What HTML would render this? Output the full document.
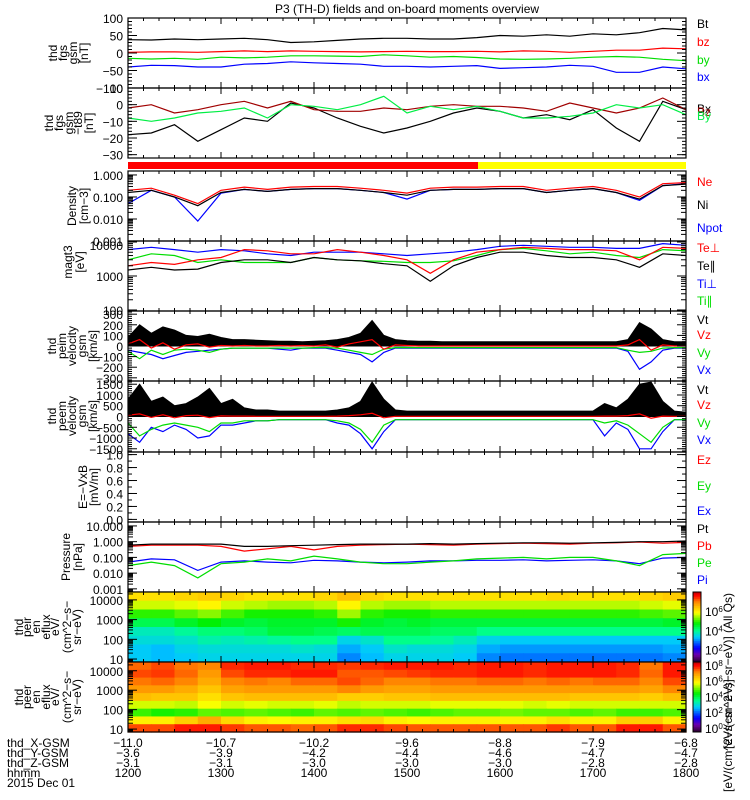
<!DOCTYPE html>
<html><head><meta charset="utf-8"><title>P3 (TH-D) overview</title>
<style>
html,body{margin:0;padding:0;background:#fff;}
svg{display:block;font-family:"Liberation Sans",sans-serif;}
text{font-size:12px;}
</style></head>
<body>
<svg id="chart" width="750" height="800" viewBox="0 0 750 800" xmlns="http://www.w3.org/2000/svg">
<rect x="0" y="0" width="750" height="800" fill="#fff"/>
<text x="407" y="13" text-anchor="middle" font-size="13">P3 (TH-D) fields and on-board moments overview</text>
</svg>
<script>
// ---------- data arrays (12:00-18:00) ----------
const p1Bt=[38,37,40,38,40,42,38,30,32,36,40,42,42,40,40,44,50,48,52,48,55,52,58,70,66];
const p1Bz=[2,3,3,2,4,6,4,6,5,4,3,4,5,4,4,5,3,6,5,2,5,8,8,14,12];
const p1By=[-15,-17,-15,-18,-12,-14,-12,-8,-8,-9,-10,-5,-8,-12,-10,-13,-17,-18,-17,-15,-12,-10,-12,-18,-22];
const p1Bx=[-40,-35,-36,-40,-40,-32,-30,-25,-28,-30,-32,-38,-38,-40,-38,-36,-44,-42,-40,-35,-38,-55,-55,-40,-45];
const p2Bx=[-18,-17,-12,-22,-15,-8,-10,1,-2,-8,-13,-17,-14,-10,-5,-2,-4,-8,-6,-9,-3,-14,-22,2,-3];
const p2Bz=[-2,0,-5,-3,0,2,-2,2,-3,-4,-4,-2,-3,-1,0,-1,-1,-2,-4,1,-2,-5,-2,4,-3];
const p2By=[-8,-10,-8,-5,-4,-2,-8,0,-1,-3,0,5,-5,-1,-3,-1,-4,-8,-8,-7,-5,0,-2,0,-6];
const p3Ne=[0.2,0.25,0.12,0.05,0.2,0.28,0.22,0.28,0.3,0.3,0.25,0.2,0.15,0.25,0.28,0.28,0.3,0.3,0.2,0.25,0.3,0.2,0.1,0.4,0.45];
const p3Ni=[0.16,0.2,0.1,0.04,0.16,0.22,0.18,0.22,0.24,0.24,0.2,0.16,0.12,0.2,0.22,0.22,0.24,0.24,0.16,0.2,0.24,0.16,0.08,0.33,0.38];
const p3Npot=[0.05,0.2,0.1,0.008,0.15,0.22,0.18,0.22,0.24,0.24,0.2,0.16,0.08,0.2,0.22,0.22,0.24,0.24,0.16,0.2,0.24,0.16,0.07,0.33,0.4];
const p4TePerp=[2000,2500,2200,3000,3500,6000,5500,4500,4500,6000,5000,4000,3000,1200,3000,5000,6000,7000,6500,6000,6000,5500,3000,7000,6500];
const p4TePar=[1500,1800,1500,1600,2500,3000,3000,2500,3500,3000,2800,2300,2000,700,2000,3500,5000,5000,4000,3500,3500,3000,1800,4500,4000];
const p4TiPerp=[6000,7000,6000,5000,6000,5500,4500,4000,5000,5000,5000,4500,4000,4500,5000,6000,7500,8000,7500,7000,7000,6500,6500,9000,8000];
const p4TiPar=[3000,4500,4000,2500,3000,2500,2500,2500,3500,3000,2800,2700,2500,2500,2800,4000,6000,6500,5500,4500,5000,4000,3500,6000,5500];
const p5Vt=[80,200,120,180,150,100,90,110,80,60,60,55,50,45,45,40,45,50,60,80,120,240,100,60,50,45,45,40,40,40,40,40,40,40,40,40,40,40,40,40,40,40,40,60,220,160,60,40,40];
const p5Vz=[20,60,-20,30,-30,10,20,-10,5,0,5,0,0,5,0,5,0,10,-10,20,40,60,-30,10,5,0,0,0,0,0,0,0,0,0,0,0,0,0,0,0,0,0,0,10,60,-40,10,0,0];
const p5Vy=[-50,-120,-40,-80,-40,-30,-40,-60,-30,-20,-20,-20,-20,-20,-20,-20,-15,-15,-20,-40,-60,-80,-30,-15,-15,-15,-15,-15,-15,-15,-15,-15,-15,-15,-15,-15,-15,-15,-15,-15,-15,-15,-15,-40,-60,-50,-20,-15,-15];
const p5Vx=[-40,-60,-80,-120,-90,-60,-50,-40,-30,-20,-20,-20,-20,-30,-40,-20,-20,-20,-40,-60,-80,-150,-60,-20,-20,-20,-20,-20,-20,-20,-20,-20,-20,-20,-20,-20,-20,-20,-20,-20,-20,-20,-20,-50,-220,-150,-40,-20,-20];
const p6Vt=[800,1500,700,900,500,600,900,1300,600,800,400,300,300,250,250,250,250,250,300,400,700,1600,800,300,250,250,250,250,250,250,250,250,250,250,250,250,250,250,250,250,250,600,400,800,1500,1600,700,250,200];
const p6Vz=[60,120,-40,80,-60,40,60,-50,30,20,20,10,10,10,10,10,10,10,20,40,80,150,-60,10,10,10,10,10,10,10,10,10,10,10,10,10,10,10,10,10,10,20,20,40,120,-80,20,10,10];
const p6Vy=[-300,-900,-600,-400,-300,-400,-500,-700,-300,-300,-200,-200,-200,-150,-150,-150,-150,-150,-200,-300,-600,-1200,-400,-150,-150,-150,-150,-150,-150,-150,-150,-150,-150,-150,-150,-150,-150,-150,-150,-150,-150,-300,-200,-400,-800,-1200,-500,-150,-150];
const p6Vx=[-800,-1200,-500,-700,-400,-600,-1000,-900,-400,-400,-300,-200,-200,-150,-150,-150,-150,-150,-300,-400,-800,-1500,-700,-150,-150,-150,-150,-150,-150,-150,-150,-150,-150,-150,-150,-150,-150,-150,-150,-150,-150,-900,-300,-600,-1500,-1500,-700,-150,-150];
const p8Pt=[0.6,0.7,0.7,0.7,0.7,0.5,0.5,0.55,0.6,0.65,0.7,0.7,0.7,0.75,0.7,0.75,0.8,0.85,0.85,0.8,0.85,0.9,1.0,1.0,1.1];
const p8Pb=[0.5,0.6,0.6,0.6,0.5,0.25,0.35,0.5,0.3,0.5,0.6,0.65,0.7,0.65,0.6,0.7,0.75,0.8,0.75,0.7,0.8,0.85,0.95,0.8,0.9];
const p8Pe=[0.03,0.05,0.03,0.005,0.04,0.05,0.08,0.06,0.12,0.08,0.05,0.04,0.04,0.05,0.06,0.08,0.09,0.1,0.08,0.1,0.1,0.06,0.03,0.15,0.18];
const p8Pi=[0.05,0.08,0.07,0.015,0.05,0.06,0.05,0.045,0.065,0.06,0.05,0.045,0.05,0.06,0.06,0.065,0.065,0.07,0.06,0.065,0.07,0.06,0.04,0.09,0.1];
const peirRows=[
[6.2,6.2,6.3,6.4,6.3,6.2,6.2,6.2,6.3,6.5,6.3,6.2,6.2,6.2,6.2,6.2,6.2,6.2,6.3,6.2,6.2,6.2,6.3,6.4],
[5.7,5.7,5.8,6.0,5.7,5.6,5.5,5.5,5.6,6.0,5.6,5.5,5.5,5.6,5.6,5.6,5.6,5.6,5.6,5.6,5.6,5.6,5.7,5.8],
[5.0,5.0,5.2,5.4,5.1,4.9,4.9,4.9,5.0,5.5,5.0,4.9,4.9,5.0,5.0,5.0,5.0,5.0,5.0,5.0,5.0,5.0,5.1,5.2],
[4.4,4.4,4.6,4.8,4.6,4.5,4.6,4.6,4.6,4.9,4.6,4.5,4.6,4.5,4.5,4.5,4.5,4.5,4.5,4.5,4.5,4.5,4.5,4.6],
[3.8,3.8,4.0,4.2,4.2,4.3,4.5,4.5,4.4,4.3,4.4,4.4,4.4,4.3,4.3,4.1,4.1,4.1,4.1,4.1,4.1,4.1,4.1,4.1],
[3.6,3.6,3.7,3.9,3.8,3.9,4.0,4.1,4.1,3.5,3.7,4.1,4.1,4.0,3.8,3.5,3.4,3.4,3.4,3.4,3.4,3.4,3.4,3.4],
[3.4,3.3,3.5,3.6,3.6,3.6,3.6,3.7,3.6,3.2,3.4,3.7,3.6,3.6,3.5,3.2,3.1,3.1,3.1,3.1,3.1,3.1,3.1,3.2],
[3.4,3.3,3.4,3.5,3.5,3.5,3.5,3.5,3.5,3.0,3.3,3.5,3.5,3.5,3.4,3.0,2.9,2.9,2.9,2.9,2.9,2.9,2.9,3.0]];
const peerRows=[
[7.4,7.6,7.3,7.2,7.8,7.9,7.9,7.8,7.8,7.7,7.8,7.9,7.9,7.9,7.8,7.9,7.9,7.8,7.9,7.9,7.9,7.8,7.3,7.9],
[7.6,7.7,7.4,7.0,7.6,7.8,7.8,7.9,7.9,7.5,7.5,7.6,7.7,7.8,7.8,7.9,7.9,7.8,7.9,7.9,7.9,7.8,7.4,7.9],
[7.3,7.4,7.2,6.8,7.2,7.3,7.2,7.4,7.4,7.6,7.4,7.2,7.2,7.3,7.3,7.4,7.4,7.3,7.4,7.3,7.4,7.4,7.2,7.6],
[7.0,7.0,6.8,6.5,6.9,7.0,7.0,7.0,7.0,7.2,7.0,6.9,6.9,7.0,7.0,7.0,7.0,7.0,7.0,7.0,7.0,7.0,6.9,7.2],
[6.6,6.5,6.5,6.2,6.5,6.6,6.6,6.6,6.6,6.4,6.4,6.5,6.5,6.6,6.6,6.6,6.6,6.6,6.6,6.5,6.5,6.5,6.4,6.6],
[5.6,5.6,5.5,5.8,5.6,5.7,5.6,5.6,5.7,5.5,5.6,5.6,5.6,5.7,5.7,5.7,5.7,5.6,5.7,5.6,5.6,5.6,5.6,5.6],
[4.8,4.6,4.7,5.0,4.9,5.0,4.9,4.8,5.0,4.9,5.0,4.9,4.8,4.9,5.0,5.0,5.1,5.0,5.0,4.9,5.0,4.8,4.8,4.9],
[6.0,6.0,6.4,6.8,6.3,6.0,5.9,6.0,6.0,6.2,6.3,6.0,5.9,6.0,6.0,6.0,6.0,6.0,6.2,6.0,6.0,6.4,6.4,6.0],
[7.6,7.6,7.9,7.9,7.7,7.5,7.5,7.4,7.5,7.8,7.8,7.6,7.5,7.5,7.5,7.5,7.5,7.5,7.7,7.5,7.5,7.9,7.9,7.5]];
const tickHhmm=["1200","1300","1400","1500","1600","1700","1800"];
const tickX=["-11.0","-10.7","-10.2","-9.6","-8.8","-7.9","-6.8"];
const tickY=["-3.6","-3.9","-4.2","-4.4","-4.6","-4.7","-4.7"];
const tickZ=["-3.1","-3.1","-3.0","-3.0","-3.0","-2.8","-2.8"];

// ---------- drawing ----------
const NS='http://www.w3.org/2000/svg';
const svg=document.getElementById('chart');
const X0=128,X1=686;
function el(tag,attrs,parent){const e=document.createElementNS(NS,tag);for(const k in attrs)e.setAttribute(k,attrs[k]);(parent||svg).appendChild(e);return e;}
function xAt(i,n){return X0+(i/(n-1))*(X1-X0);}
function linS(lo,hi,top,bot){return v=>bot-(v-lo)/(hi-lo)*(bot-top);}
function logS(lo,hi,top,bot){return v=>bot-(Math.log10(Math.max(v,1e-9))-lo)/(hi-lo)*(bot-top);}
function clampY(y,top,bot){return Math.max(top,Math.min(bot,y));}

function series(vals,ys,p,color,name){
  const pts=vals.map((v,i)=>xAt(i,vals.length).toFixed(1)+','+clampY(ys(v),p.top,p.bot).toFixed(1)).join(' ');
  const e=el('polyline',{points:pts,fill:'none',stroke:color,'stroke-width':1.2});
  
  
}
function areaSeries(vals,ys,p,color,name,base){
  const n=vals.length;let pts=X0+','+ys(base);
  vals.forEach((v,i)=>{pts+=' '+xAt(i,n).toFixed(1)+','+clampY(ys(v),p.top,p.bot).toFixed(1);});
  pts+=' '+X1+','+ys(base);
  const e=el('polygon',{points:pts,fill:color,stroke:color,'stroke-width':1});
  
  
}
function label(x,y,txt,color,name,anchor){
  const t=el('text',{x:x,y:y,fill:color||'#000','text-anchor':anchor||'start'});
  t.textContent=txt;
  
  
  return t;
}
function frame(p,name){
  const r=el('rect',{x:X0,y:p.top,width:X1-X0,height:p.bot-p.top,fill:'none',stroke:'#000','stroke-width':1.2});
  
  
  for(let m=0;m<=360;m+=10){
    const x=X0+m/360*(X1-X0);const L=(m%60===0)?6:3;
    const a=el('line',{x1:x,x2:x,y1:p.top,y2:p.top+L,stroke:'#000','stroke-width':1});
    
    
    const b=el('line',{x1:x,x2:x,y1:p.bot,y2:p.bot-L,stroke:'#000','stroke-width':1});
    
    
  }
}
function ytick(y,len){
  const a=el('line',{x1:X0,x2:X0+len,y1:y,y2:y,stroke:'#000','stroke-width':1});
  
  
  const b=el('line',{x1:X1,x2:X1-len,y1:y,y2:y,stroke:'#000','stroke-width':1});
  
  
}
function linAxis(p,ys,vals,labs,minorStep,lo,hi,name){
  for(let v=Math.ceil(lo/minorStep)*minorStep;v<=hi;v+=minorStep) ytick(ys(v),4);
  vals.forEach((v,i)=>{ytick(ys(v),9);label(123,ys(v)+5,labs[i],'#000',name+'-tick-label','end');});
}
function logAxis(p,ys,lo,hi,decs,labs,name){
  for(let d=Math.floor(lo);d<=Math.ceil(hi);d++){
    for(let k=1;k<10;k++){const lv=d+Math.log10(k);if(lv<lo||lv>hi)continue;ytick(ys(Math.pow(10,lv)),k===1?9:5);}
  }
  decs.forEach((d,i)=>label(123,clampY(ys(Math.pow(10,d)),p.top+4,p.bot)+5,labs[i],'#000',name+'-tick-label','end'));
}
function ytitle(lines,xs,cy,name){
  lines.forEach((s,i)=>{
    const t=el('text',{x:0,y:0,'text-anchor':'middle',transform:'translate('+xs[i]+','+cy+') rotate(-90)'});
    t.textContent=s;
    
    
  });
}

const P=[{top:18,bot:88},{top:88,bot:158},{top:171,bot:241},{top:241,bot:311},{top:311,bot:381},{top:381,bot:452},{top:452,bot:522},{top:522,bot:592},{top:592,bot:662},{top:662,bot:732}];

let p=P[0];let ys=linS(-100,100,p.top,p.bot);
series(p1Bt,ys,p,'#000','bt-line');series(p1Bz,ys,p,'#f00','bz-line');series(p1By,ys,p,'#0d0','by-line');series(p1Bx,ys,p,'#00f','bx-line');
frame(p,'fgs-panel');linAxis(p,ys,[100,50,0,-50,-100],['100','50','0','\u221250','\u2212100'],10,-100,100,'fgs');
ytitle(['thd','fgs','gsm','[nT]'],[57,67,77,88],53,'fgs-y-title');
label(697,28,'Bt','#000','legend-bt');label(697,46,'bz','#f00','legend-bz');label(697,64,'by','#0d0','legend-by');label(697,81,'bx','#00f','legend-bx');

p=P[1];ys=linS(-32,10,p.top,p.bot);
series(p2Bx,ys,p,'#000','dbx-line');series(p2Bz,ys,p,'#a00000','dbz-line');series(p2By,ys,p,'#0e4','dby-line');
frame(p,'fgs-t89-panel');linAxis(p,ys,[10,0,-10,-20,-30],['10','0','\u221210','\u221220','\u221230'],2,-32,10,'fgs-t89');
ytitle(['thd','fgs','gsm','\u2212t89','[nT]'],[53,63,73,82,93],123,'fgs-t89-y-title');
label(697,113,'Bx','#000','legend-dbx');label(697,116,'Bz','#a00000','legend-dbz');label(697,120,'By','#0e4','legend-dby');

let sb=el('rect',{x:X0,y:162,width:478-X0,height:7,fill:'#f00'});
sb=el('rect',{x:478,y:162,width:X1-478,height:7,fill:'#ff0'});

p=P[2];ys=logS(-3,0.18,p.top,p.bot);
series(p3Npot,ys,p,'#00f','npot-line');series(p3Ni,ys,p,'#000','ni-line');series(p3Ne,ys,p,'#f00','ne-line');
frame(p,'density-panel');logAxis(p,ys,-3,0.18,[0,-1,-2,-3],['1.000','0.100','0.010','0.001'],'density');
ytitle(['Density','[cm\u22123]'],[76,88],206,'density-y-title');
label(697,186,'Ne','#f00','legend-ne');label(697,209,'Ni','#000','legend-ni');label(697,232,'Npot','#00f','legend-npot');

p=P[3];ys=logS(1.97,4.03,p.top,p.bot);
series(p4TiPar,ys,p,'#0d0','tipar-line');series(p4TePar,ys,p,'#000','tepar-line');series(p4TiPerp,ys,p,'#00f','tiperp-line');series(p4TePerp,ys,p,'#f00','teperp-line');
frame(p,'temperature-panel');logAxis(p,ys,1.97,4.03,[4,3,2],['10000','1000','100'],'temperature');
ytitle(['magt3','[eV]'],[72,84],262,'temperature-y-title');
label(697,252,'Te\u22a5','#f00','legend-teperp');label(697,270,'Te\u2225','#000','legend-tepar');label(697,288,'Ti\u22a5','#00f','legend-tiperp');label(697,305,'Ti\u2225','#0d0','legend-tipar');

p=P[4];ys=linS(-330,330,p.top,p.bot);
areaSeries(p5Vt,ys,p,'#000','peim-vt-area',0);
series(p5Vx,ys,p,'#00f','peim-vx-line');series(p5Vy,ys,p,'#0d0','peim-vy-line');series(p5Vz,ys,p,'#f00','peim-vz-line');
frame(p,'peim-panel');linAxis(p,ys,[300,200,100,0,-100,-200,-300],['300','200','100','0','\u2212100','\u2212200','\u2212300'],20,-320,320,'peim');
ytitle(['thd','peim','velocity','gsm','[km/s]'],[56,66,76,86,97],346,'peim-y-title');
label(697,324,'Vt','#000','legend-peim-vt');label(697,339,'Vz','#f00','legend-peim-vz');label(697,357,'Vy','#0d0','legend-peim-vy');label(697,374,'Vx','#00f','legend-peim-vx');

p=P[5];ys=linS(-1650,1650,p.top,p.bot);
areaSeries(p6Vt,ys,p,'#000','peem-vt-area',0);
series(p6Vx,ys,p,'#00f','peem-vx-line');series(p6Vy,ys,p,'#0d0','peem-vy-line');series(p6Vz,ys,p,'#f00','peem-vz-line');
frame(p,'peem-panel');linAxis(p,ys,[1500,1000,500,0,-500,-1000,-1500],['1500','1000','500','0','\u2212500','\u22121000','\u22121500'],100,-1600,1600,'peem');
ytitle(['thd','peem','velocity','gsm','[km/s]'],[56,66,76,86,97],416,'peem-y-title');
label(697,394,'Vt','#000','legend-peem-vt');label(697,409,'Vz','#f00','legend-peem-vz');label(697,427,'Vy','#0d0','legend-peem-vy');label(697,444,'Vx','#00f','legend-peem-vx');

p=P[6];ys=linS(-0.04,1.04,p.top,p.bot);
frame(p,'efield-panel');linAxis(p,ys,[1,0.8,0.6,0.4,0.2,0],['1.0','0.8','0.6','0.4','0.2','0.0'],0.1,0,1.0001,'efield');
ytitle(['E=\u2212VxB','[mV/m]'],[87,98],487,'efield-y-title');
label(697,464,'Ez','#f00','legend-ez');label(697,490,'Ey','#0d0','legend-ey');label(697,515,'Ex','#00f','legend-ex');

p=P[7];ys=logS(-3.2,1.25,p.top,p.bot);
series(p8Pi,ys,p,'#00f','pi-line');series(p8Pe,ys,p,'#0d0','pe-line');series(p8Pb,ys,p,'#f00','pb-line');series(p8Pt,ys,p,'#000','pt-line');
frame(p,'pressure-panel');logAxis(p,ys,-3.2,1.25,[1,0,-1,-2,-3],['10.000','1.000','0.100','0.010','0.001'],'pressure');
ytitle(['Pressure','[nPa]'],[70,82],557,'pressure-y-title');
label(697,533,'Pt','#000','legend-pt');label(697,550,'Pb','#f00','legend-pb');label(697,567,'Pe','#0d0','legend-pe');label(697,584,'Pi','#00f','legend-pi');

const cstops=[[0,[40,0,40]],[0.1,[110,0,170]],[0.2,[0,0,255]],[0.35,[0,200,255]],[0.45,[0,255,140]],[0.55,[0,240,0]],[0.7,[255,255,0]],[0.85,[255,140,0]],[0.95,[255,0,0]],[1,[190,0,0]]];
function cmap(t){t=Math.max(0,Math.min(1,t));for(let i=1;i<cstops.length;i++){if(t<=cstops[i][0]){const a=cstops[i-1],b=cstops[i];const f=(t-a[0])/(b[0]-a[0]);const c=a[1].map((v,k)=>Math.round(v+(b[1][k]-v)*f));return 'rgb('+c.join(',')+')';}}return 'rgb(190,0,0)';}
function spectro(rows,p,clo,chi,name){
  const nr=rows.length,nc=rows[0].length;const h=(p.bot-p.top)/nr;const w=(X1-X0)/nc;
  rows.forEach((row,r)=>row.forEach((v,c)=>{
    const e=el('rect',{x:(X0+c*w).toFixed(2),y:(p.top+r*h).toFixed(2),width:(w+0.6).toFixed(2),height:(h+0.6).toFixed(2),fill:cmap((v-clo)/(chi-clo))});
    
    
  }));
}
function colorbar(p,clo,chi,decs,name){
  const n=40;const h=(p.bot-p.top)/n;
  for(let i=0;i<n;i++){const v=chi-(i+0.5)/n*(chi-clo);const e=el('rect',{x:693,y:(p.top+i*h).toFixed(2),width:8,height:(h+0.5).toFixed(2),fill:cmap((v-clo)/(chi-clo))});}
  const f=el('rect',{x:693,y:p.top,width:8,height:p.bot-p.top,fill:'none',stroke:'#000','stroke-width':1});
  decs.forEach(d=>{const y=p.bot-(d-clo)/(chi-clo)*(p.bot-p.top);const t=label(705,y+4,'10','#000',name+'-colorbar-label');const s=el('tspan',{dy:-4,'font-size':8});s.textContent=String(d);t.appendChild(s);});
}
p=P[8];ys=logS(0.85,4.4,p.top,p.bot);
spectro(peirRows,p,0.8,8.1,'peir');
frame(p,'peir-panel');logAxis(p,ys,0.85,4.4,[4,3,2,1],['10000','1000','100','10'],'peir');
ytitle(['thd','peir','en','eflux','eV/','(cm^2\u2212s\u2212','sr\u2212eV)'],[23,31,40,50,59,71,81],627,'peir-y-title');
colorbar(p,0.8,8.1,[6,4,2],'peir');
p=P[9];ys=logS(0.85,4.45,p.top,p.bot);
spectro(peerRows,p,-0.4,8.5,'peer');
frame(p,'peer-panel');logAxis(p,ys,0.85,4.45,[4,3,2,1],['10000','1000','100','10'],'peer');
ytitle(['thd','peer','en','eflux','eV/','(cm^2\u2212s\u2212','sr\u2212eV)'],[23,31,40,50,59,71,81],697,'peer-y-title');
colorbar(p,-0.4,8.5,[8,6,4,2,0],'peer');
let ct=el('text',{x:0,y:0,'text-anchor':'end',transform:'translate(732,593) rotate(-90)'});ct.textContent='[eV/(cm^2\u2212s\u2212sr\u2212eV)] (All Qs)';
ct=el('text',{x:0,y:0,'text-anchor':'start',transform:'translate(732,792) rotate(-90)'});ct.textContent='[eV/(cm^2\u2212s\u2212sr\u2212eV)]';

const rowsB=[['thd_X-GSM',tickX,747],['thd_Y-GSM',tickY,757],['thd_Z-GSM',tickZ,767],['hhmm',tickHhmm,777]];
rowsB.forEach(r=>{
  label(7,r[2],r[0],'#000','annotation-row-label');
  r[1].forEach((s,i)=>label(X0+i/6*(X1-X0),r[2],s.replace('-','\u2212'),'#000','annotation-value','middle'));
});
label(7,787,'2015 Dec 01','#000','date-label');
</script>
</body></html>
